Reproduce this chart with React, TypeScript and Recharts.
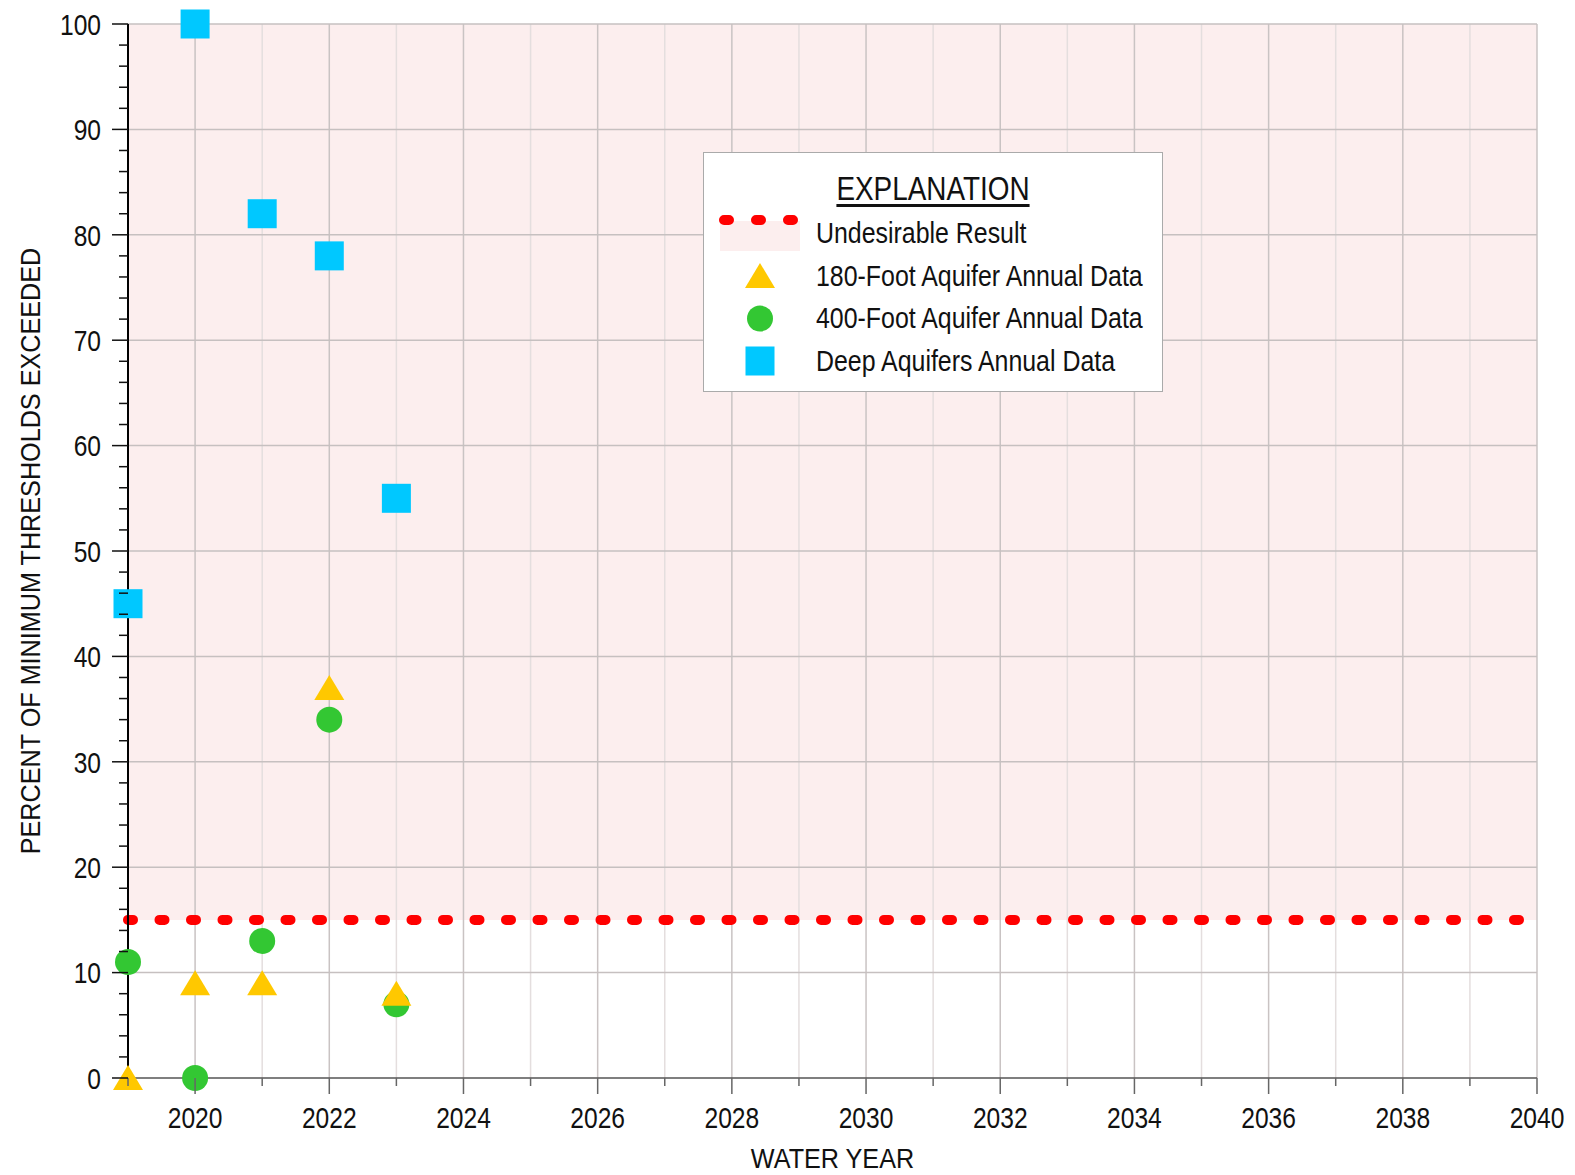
import {
  ScatterChart,
  Scatter,
  XAxis,
  YAxis,
  ReferenceArea,
  ReferenceLine,
} from 'recharts';

// water years with annual data
const years = [2019, 2020, 2021, 2022, 2023];
// percent of minimum thresholds exceeded
const aquifer180 = [0, 9, 9, 37, 8];
const aquifer400 = [11, 0, 13, 34, 7];
const deepAquifers = [45, 100, 82, 78, 55];

const undesirableThreshold = 15;

const xTicks = [
  2019, 2020, 2021, 2022, 2023, 2024, 2025, 2026, 2027, 2028, 2029, 2030,
  2031, 2032, 2033, 2034, 2035, 2036, 2037, 2038, 2039, 2040,
];
const yTicks = Array.from({ length: 51 }, (_, i) => i * 2);
const yGrid = [10, 20, 30, 40, 50, 60, 70, 80, 90, 100];

const SERIES = [
  { name: '180-Foot Aquifer Annual Data', values: aquifer180, color: '#FFC800', shape: 'triangle' },
  { name: '400-Foot Aquifer Annual Data', values: aquifer400, color: '#33C733', shape: 'circle' },
  { name: 'Deep Aquifers Annual Data', values: deepAquifers, color: '#00C8FF', shape: 'square' },
];

// no narrow font installed, so Liberation Sans gets squeezed horizontally
const FONT = "'Liberation Sans', Arial, sans-serif";
const PINK = '#FCEEEE';

const toPoints = (values: number[]) => years.map((year, i) => ({ year, value: values[i] }));

const NarrowText = ({ x, y, squeeze, anchor, size, rotate = 0, dy, children }: any) => (
  <text
    transform={`translate(${x} ${y}) rotate(${rotate}) scale(${squeeze} 1)`}
    x={0}
    y={0}
    dy={dy}
    textAnchor={anchor}
    fontSize={size}
    fontFamily={FONT}
    fill="#111"
  >
    {children}
  </text>
);

const Marker = ({ cx, cy, shape, color }: { cx: number; cy: number; shape: string; color: string }) => {
  if (shape === 'triangle') {
    return <polygon points={`${cx},${cy - 13} ${cx + 15},${cy + 12} ${cx - 15},${cy + 12}`} fill={color} />;
  }
  if (shape === 'circle') {
    return <circle cx={cx} cy={cy} r={13} fill={color} />;
  }
  return <rect x={cx - 14.5} y={cy - 14.5} width={29} height={29} fill={color} />;
};

const XTick = ({ x, y, payload }: any) => {
  const major = payload.value % 2 === 0;
  return (
    <g>
      <line x1={x} x2={x} y1={y} y2={y + (major ? 16 : 8)} stroke="#666" strokeWidth={1.5} />
      {major && (
        <NarrowText x={x} y={y + 50} squeeze={0.82} anchor="middle" size={30}>
          {payload.value}
        </NarrowText>
      )}
    </g>
  );
};

const YTick = ({ x, y, payload }: any) => {
  const major = payload.value % 10 === 0;
  return (
    <g>
      <line x1={x - (major ? 16 : 9)} x2={x} y1={y} y2={y} stroke="#111" strokeWidth={1.5} />
      {major && (
        <NarrowText x={x - 27} y={y} dy="0.36em" squeeze={0.82} anchor="end" size={30}>
          {payload.value}
        </NarrowText>
      )}
    </g>
  );
};

const Legend = () => (
  <div
    style={{
      position: 'absolute',
      left: 703,
      top: 152,
      width: 458,
      height: 238,
      background: '#fff',
      border: '1.5px solid #aaa',
      fontFamily: FONT,
      color: '#111',
    }}
  >
    <div
      style={{
        position: 'absolute',
        top: 16,
        width: '100%',
        textAlign: 'center',
        fontSize: 34,
        textDecoration: 'underline',
        textUnderlineOffset: 4,
        transform: 'scaleX(0.82)',
        transformOrigin: 'center',
        whiteSpace: 'nowrap',
      }}
    >
      EXPLANATION
    </div>
    <svg style={{ position: 'absolute', left: 0, top: 0 }} width={458} height={238}>
      <rect x={16} y={68} width={80} height={30} fill={PINK} />
      <line x1={20} x2={92} y1={67} y2={67} stroke="#f00" strokeWidth={10} strokeDasharray="5 27" strokeLinecap="round" />
      {SERIES.map((s, i) => (
        <Marker key={s.name} cx={56} cy={123 + i * 42.5} shape={s.shape} color={s.color} />
      ))}
    </svg>
    {['Undesirable Result', ...SERIES.map((s) => s.name)].map((label, i) => (
      <div
        key={label}
        style={{
          position: 'absolute',
          left: 112,
          top: 63 + i * 42.5,
          fontSize: 30,
          lineHeight: '34px',
          whiteSpace: 'nowrap',
          transform: 'scaleX(0.83)',
          transformOrigin: 'left center',
        }}
      >
        {label}
      </div>
    ))}
  </div>
);

export default function App() {
  return (
    <div style={{ position: 'absolute', left: 0, top: 0, width: 1575, height: 1175, background: '#fff' }}>
      <ScatterChart width={1575} height={1175} margin={{ top: 24, right: 38, left: 0, bottom: 0 }}>
        <XAxis
          type="number"
          dataKey="year"
          domain={[2019, 2040]}
          ticks={xTicks}
          interval={0}
          height={97}
          tickSize={0}
          tickMargin={0}
          tick={<XTick />}
          axisLine={{ stroke: '#555', strokeWidth: 1.5 }}
          label={{
            content: ({ viewBox }: any) => (
              <NarrowText x={viewBox.x + viewBox.width / 2} y={viewBox.y + 90} squeeze={0.9} anchor="middle" size={28}>
                WATER YEAR
              </NarrowText>
            ),
          }}
        />
        <YAxis
          type="number"
          dataKey="value"
          domain={[0, 100]}
          ticks={yTicks}
          interval={0}
          width={128}
          tickSize={0}
          tickMargin={0}
          tick={<YTick />}
          axisLine={{ stroke: '#000', strokeWidth: 2 }}
          label={{
            content: ({ viewBox }: any) => (
              <NarrowText
                x={30}
                y={viewBox.y + viewBox.height / 2}
                rotate={-90}
                dy="0.36em"
                squeeze={0.9}
                anchor="middle"
                size={28}
              >
                PERCENT OF MINIMUM THRESHOLDS EXCEEDED
              </NarrowText>
            ),
          }}
        />
        <ReferenceArea x1={2019} x2={2040} y1={undesirableThreshold} y2={100} fill={PINK} fillOpacity={1} stroke="none" />
        {xTicks.map((yr) => (
          <ReferenceLine
            key={`vx${yr}`}
            x={yr}
            stroke={yr % 2 === 0 ? '#c9c3c3' : '#e4dede'}
            strokeWidth={1.5}
          />
        ))}
        {yGrid.map((v) => (
          <ReferenceLine key={`hy${v}`} y={v} stroke="#c6c0c0" strokeWidth={1.5} />
        ))}
        <ReferenceLine
          y={undesirableThreshold}
          stroke="#ff0000"
          strokeWidth={10}
          strokeDasharray="5 26.5"
          strokeLinecap="round"
        />
        {[SERIES[1], SERIES[0], SERIES[2]].map((s) => (
          <Scatter
            key={s.name}
            name={s.name}
            data={toPoints(s.values)}
            fill={s.color}
            isAnimationActive={false}
            shape={(p: any) => <Marker cx={p.cx} cy={p.cy} shape={s.shape} color={s.color} />}
          />
        ))}
      </ScatterChart>
      <Legend />
    </div>
  );
}
